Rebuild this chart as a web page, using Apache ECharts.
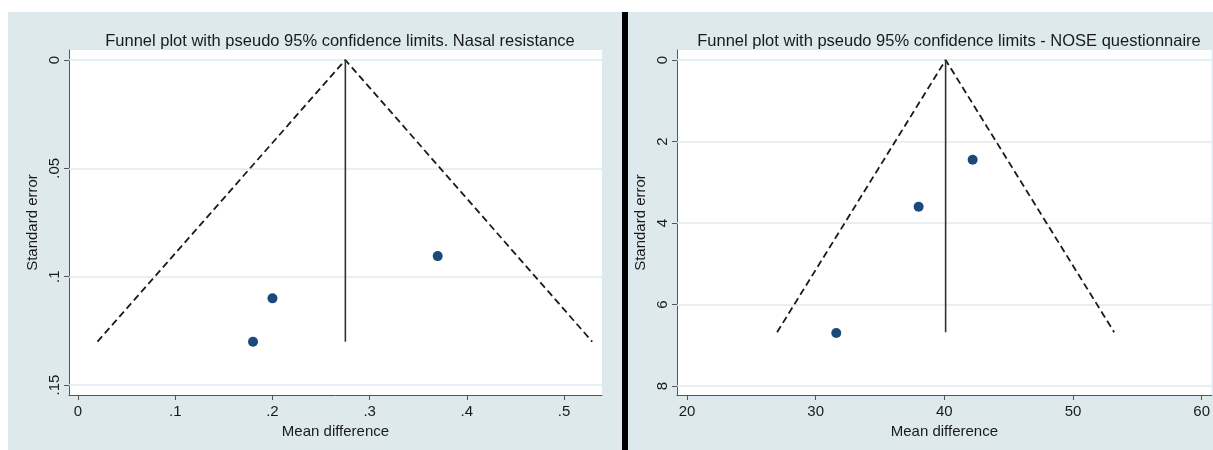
<!DOCTYPE html>
<html>
<head>
<meta charset="utf-8">
<script src="https://cdn.jsdelivr.net/npm/echarts@6/dist/echarts.min.js"></script>
<style>
html,body{margin:0;padding:0;background:#fff;}
#c{width:1213px;height:450px;}
</style>
</head>
<body>
<div id="c"></div>
<script>
// ---- Panel 1: Nasal resistance ----
const nasalTitle = 'Funnel plot with pseudo 95% confidence limits. Nasal resistance';
const nasalMD = [0.20, 0.18, 0.37];
const nasalSE = [0.110, 0.130, 0.0905];
const nasalPooled = 0.275;
const nasalSEmax = 0.130;
const nasalLowerEnd = 0.020;
const nasalUpperEnd = 0.529;
const nasalXTicks = [0, 0.1, 0.2, 0.3, 0.4, 0.5];
const nasalYTicks = [0, 0.05, 0.1, 0.15];
const nasalXRange = [-0.0093, 0.539];
const nasalYRange = [-0.0046, 0.1546];

// ---- Panel 2: NOSE questionnaire ----
const noseTitle = 'Funnel plot with pseudo 95% confidence limits - NOSE questionnaire';
const noseMD = [42.2, 38.0, 31.6];
const noseSE = [2.45, 3.6, 6.7];
const nosePooled = 40.1;
const noseSEmax = 6.68;
const noseLowerEnd = 27.0;
const noseUpperEnd = 53.2;
const noseXTicks = [20, 30, 40, 50, 60];
const noseYTicks = [0, 2, 4, 6, 8];
const noseXRange = [19.22, 60.78];
const noseYRange = [-0.245, 8.22];

const xName = 'Mean difference';
const yName = 'Standard error';

const FONT = '"Liberation Sans", Arial, Helvetica, sans-serif';
const TXT = '#1a1a1a';
const AXIS = '#555';
const GRIDC = '#dfeaee';
const DOT = '#1a4a7a';

function stataFmt(v) {
  let s = String(+v.toFixed(4));
  if (s.startsWith('0.')) s = s.slice(1);
  return s;
}

function xAxisCfg(gi, range, ticks) {
  return {
    type: 'value', gridIndex: gi, min: range[0], max: range[1],
    name: xName, nameLocation: 'middle', nameGap: 25,
    nameTextStyle: {color: TXT, fontFamily: FONT, fontSize: 15},
    axisLine: {show: true, onZero: false, lineStyle: {color: AXIS, width: 1}},
    axisTick: {show: true, length: 5, lineStyle: {color: AXIS}, customValues: ticks},
    axisLabel: {show: true, color: TXT, fontFamily: FONT, fontSize: 15, margin: 9,
      customValues: ticks, formatter: stataFmt},
    splitLine: {show: false}
  };
}
function yAxisCfg(gi, range, ticks) {
  return {
    type: 'value', gridIndex: gi, inverse: true, min: range[0], max: range[1],
    name: yName, nameLocation: 'middle', nameGap: 29, nameRotate: 90,
    nameTextStyle: {color: TXT, fontFamily: FONT, fontSize: 15},
    axisLine: {show: true, onZero: false, lineStyle: {color: AXIS, width: 1}},
    axisTick: {show: true, length: 5, lineStyle: {color: AXIS}, customValues: ticks},
    axisLabel: {show: true, rotate: 90, color: TXT, fontFamily: FONT, fontSize: 15, margin: 7,
      customValues: ticks, formatter: stataFmt},
    splitLine: {show: false}
  };
}

function panelSeries(gi, md, se, pooled, seMax, lo, hi, yTicks) {
  const pts = md.map((m, i) => [m, se[i]]);
  return [
    {
      type: 'line', xAxisIndex: gi, yAxisIndex: gi, silent: true,
      data: [[lo, seMax], [pooled, 0], [hi, seMax]],
      symbol: 'none', lineStyle: {color: '#1a1a1a', width: 1.8, type: [7, 4]},
      markLine: {
        silent: true, symbol: 'none', label: {show: false},
        lineStyle: {color: GRIDC, width: 1.5, type: 'solid'},
        data: yTicks.map(v => ({yAxis: v})), z: 1
      }, z: 3
    },
    {
      type: 'line', xAxisIndex: gi, yAxisIndex: gi, silent: true,
      data: [[pooled, 0], [pooled, seMax]],
      symbol: 'none', lineStyle: {color: '#333', width: 1.6, type: 'solid'}, z: 3
    },
    {
      type: 'scatter', xAxisIndex: gi, yAxisIndex: gi,
      data: pts, symbolSize: 10, itemStyle: {color: DOT, opacity: 1}, z: 4
    }
  ];
}

const chart = echarts.init(document.getElementById('c'), null, {renderer: 'canvas'});
chart.setOption({
  animation: false,
  backgroundColor: '#ffffff',
  graphic: [
    {type: 'rect', shape: {x: 8, y: 12, width: 1205, height: 438}, style: {fill: '#dde9ed'}, z: -10, silent: true},
    {type: 'rect', shape: {x: 622, y: 12, width: 6, height: 438}, style: {fill: '#000'}, z: -9, silent: true}
  ],
  title: [
    {text: nasalTitle, left: 335, top: 28, textAlign: 'center',
      textStyle: {color: TXT, fontFamily: FONT, fontSize: 16.5, fontWeight: 'normal'}},
    {text: noseTitle, left: 944, top: 28, textAlign: 'center',
      textStyle: {color: TXT, fontFamily: FONT, fontSize: 16.5, fontWeight: 'normal'}}
  ],
  grid: [
    {left: 69, top: 50, width: 533, height: 345, show: true, backgroundColor: '#ffffff', borderWidth: 0, containLabel: false},
    {left: 677, top: 50, width: 535, height: 345, show: true, backgroundColor: '#ffffff', borderWidth: 0, containLabel: false}
  ],
  xAxis: [xAxisCfg(0, nasalXRange, nasalXTicks), xAxisCfg(1, noseXRange, noseXTicks)],
  yAxis: [yAxisCfg(0, nasalYRange, nasalYTicks), yAxisCfg(1, noseYRange, noseYTicks)],
  series: [
    ...panelSeries(0, nasalMD, nasalSE, nasalPooled, nasalSEmax, nasalLowerEnd, nasalUpperEnd, nasalYTicks),
    ...panelSeries(1, noseMD, noseSE, nosePooled, noseSEmax, noseLowerEnd, noseUpperEnd, noseYTicks)
  ]
});
</script>
</body>
</html>
